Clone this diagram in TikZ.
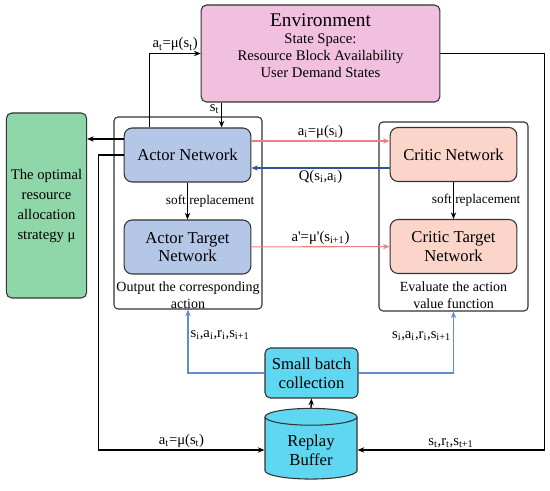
\documentclass[tikz,border=0pt]{standalone}
\usepackage{fontspec}
\setmainfont{Liberation Serif}
\usetikzlibrary{arrows.meta,calc,shapes.geometric}

\definecolor{envpink}{RGB}{240,192,222}
\definecolor{actorblue}{RGB}{180,199,231}
\definecolor{criticpeach}{RGB}{251,213,202}
\definecolor{stratgreen}{RGB}{143,214,168}
\definecolor{buffercyan}{RGB}{95,215,240}
\definecolor{actred}{RGB}{238,128,128}
\definecolor{qblue}{RGB}{47,85,151}
\definecolor{batchblue}{RGB}{95,140,210}

\begin{document}
\begin{tikzpicture}[x=0.75pt,y=-0.75pt,>={Stealth[length=5pt,width=4pt]},font=\rmfamily,
  netbox/.style={draw=black!80,rounded corners=6pt,line width=0.8pt,align=center,
    minimum width=95pt,minimum height=40.5pt,font=\rmfamily\fontsize{12.5}{14}\selectfont},
  frame/.style={draw=black!80,rounded corners=3pt,line width=0.8pt},
  lbl/.style={font=\rmfamily\fontsize{11}{12}\selectfont,inner sep=1.5pt},
  note/.style={font=\rmfamily\fontsize{10.5}{12.5}\selectfont,align=center,inner sep=0pt}]
  \useasboundingbox (0,0) rectangle (550,491);

  % environment
  \node[draw=black!80,fill=envpink,rounded corners=4pt,line width=0.8pt,
    minimum width=179pt,minimum height=72.75pt] (env) at (320.5,53.5) {};
  \node[align=center,font=\rmfamily\fontsize{11}{12.75}\selectfont] (envtext) at (320.5,46)
    {{\fontsize{14.5}{16}\selectfont Environment}\\State Space:\\Resource Block Availability\\User Demand States};

  % strategy
  \node[draw=black!80,fill=stratgreen,rounded corners=4pt,line width=0.8pt,align=center,
    minimum width=59.25pt,minimum height=138.75pt,font=\rmfamily\fontsize{11}{15}\selectfont] (strategy) at (46.5,205.5)
    {The optimal\\resource\\allocation\\strategy μ};

  % actor side
  \node[frame,minimum width=111pt,minimum height=144pt] (actorframe) at (188,213) {};
  \node[netbox,fill=actorblue] (actor) at (187.5,155) {Actor Network};
  \node[netbox,fill=actorblue] (actortarget) at (187.5,247) {Actor Target\\Network};
  \node[note] (actornote) at (188,295) {Output the corresponding\\action};

  % critic side
  \node[frame,minimum width=111.75pt,minimum height=141.75pt] (criticframe) at (453.5,216.5) {};
  \node[netbox,fill=criticpeach] (critic) at (453.5,154.5) {Critic Network};
  \node[netbox,fill=criticpeach] (critictarget) at (453.5,246.5) {Critic Target\\Network};
  \node[note] (criticnote) at (453.5,295) {Evaluate the action\\value function};

  % replay
  \node[draw=black!80,fill=buffercyan,rounded corners=4pt,line width=0.8pt,align=center,
    minimum width=69.75pt,minimum height=37.5pt,font=\rmfamily\fontsize{12.5}{14}\selectfont] (batch) at (311.5,373)
    {Small batch\\collection};
  \node[cylinder,shape border rotate=90,draw=black!80,fill=buffercyan,line width=0.8pt,aspect=0.3,
    minimum width=69pt,minimum height=53pt,align=center,font=\rmfamily\fontsize{12.5}{14}\selectfont] (buffer) at (311,450)
    {Replay\\Buffer};

  % connections
  \draw[->,line width=0.8pt] ($(actor.north west)+(26,0)$) |- (env.west)
    node[lbl,pos=0.75,above] {a\textsubscript{t}=μ(s\textsubscript{t})};
  \draw[->,line width=0.8pt] ($(env.south west)+(21,0)$) -- ($(actor.north west)+(98,0)$)
    node[lbl,pos=0.25,left] {s\textsubscript{t}};
  \draw[->,line width=0.8pt] (env.east) -- ++(104,0) |- (buffer.east)
    node[lbl,pos=0.75,above] {s\textsubscript{t},r\textsubscript{t},s\textsubscript{t+1}};
  \draw[->,line width=1.4pt] ($(actor.west)+(0,-16)$) -- (strategy.east |- {$(actor.west)+(0,-16)$});
  \draw[->,line width=0.8pt] (actor.west) -- ++(-25,0) |- (buffer.west)
    node[lbl,pos=0.75,above] {a\textsubscript{t}=μ(s\textsubscript{t})};

  \draw[->,actred,line width=0.8pt] ($(actor.east)+(0,-14)$) -- (critic.west |- {$(actor.east)+(0,-14)$})
    node[lbl,midway,above,text=black] {a\textsubscript{i}=μ(s\textsubscript{i})};
  \draw[->,qblue,line width=0.8pt] ($(critic.west)+(0,13.5)$) -- (actor.east |- {$(critic.west)+(0,13.5)$})
    node[lbl,midway,below,text=black] {Q(s\textsubscript{i},a\textsubscript{i})};
  \draw[->,actred,line width=0.8pt] (actortarget) -- (critictarget)
    node[lbl,midway,above,text=black] {a\textquotesingle=μ\textquotesingle(s\textsubscript{i+1})};

  \draw[->,line width=0.6pt] (actor) -- (actortarget)
    node[midway,xshift=17pt,font=\rmfamily\fontsize{10}{12}\selectfont] {soft replacement};
  \draw[->,line width=0.6pt] (critic) -- (critictarget)
    node[midway,xshift=17pt,font=\rmfamily\fontsize{10}{12}\selectfont] {soft replacement};

  \draw[->,batchblue,line width=0.9pt] (batch.west) -| (actorframe.south)
    node[lbl,pos=0.8,anchor=west,text=black] {s\textsubscript{i},a\textsubscript{i},r\textsubscript{i},s\textsubscript{i+1}};
  \draw[->,batchblue,line width=0.9pt] (batch.east) -| (criticframe.south)
    node[lbl,pos=0.8,anchor=east,text=black] {s\textsubscript{i},a\textsubscript{i},r\textsubscript{i},s\textsubscript{i+1}};
  \draw[->,line width=1pt] (buffer.north) -- (batch.south);
\end{tikzpicture}
\end{document}
